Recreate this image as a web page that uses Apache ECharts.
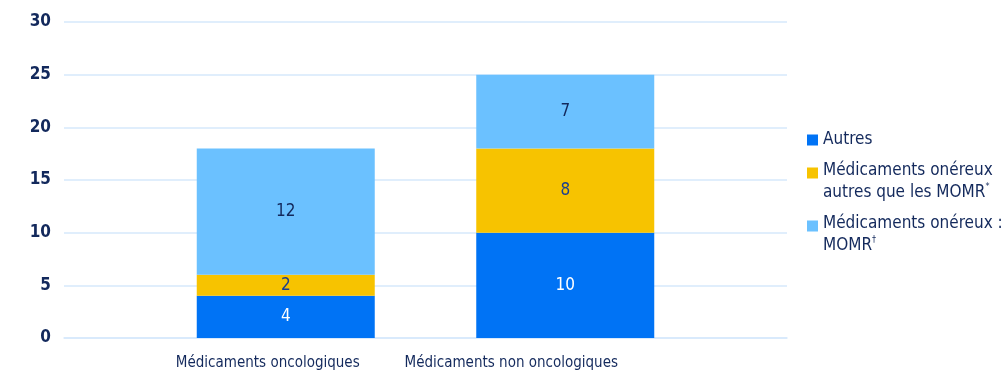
<!DOCTYPE html>
<html><head><meta charset="utf-8">
<script src="https://cdn.jsdelivr.net/npm/echarts@6/dist/echarts.min.js"></script>
<style>html,body{margin:0;padding:0;background:#fff}#c{width:1007px;height:383px}</style>
</head><body><div id="c"></div>
<script>
const categories = ['Médicaments oncologiques', 'Médicaments non oncologiques'];
const autres = [4, 10];
const onereuxAutres = [2, 8];
const momr = [12, 7];
const yTicks = [0, 5, 10, 15, 20, 25, 30];
const seriesNames = ['Autres', 'Médicaments onéreux autres que les MOMR*', 'Médicaments onéreux : MOMR†'];

const NAVY = '#13295c';
const FONT = '"DejaVu Sans Condensed", sans-serif';
const chart = echarts.init(document.getElementById('c'));
function lbl(color) {
  return { show: true, position: 'inside', color: color, fontFamily: FONT, fontSize: 17 };
}
const legendFmt = {
  'Autres': 'Autres',
  'Médicaments onéreux autres que les MOMR*': 'Médicaments onéreux\nautres que les MOMR{s|*}',
  'Médicaments onéreux : MOMR†': 'Médicaments onéreux :\nMOMR{s|†}'
};
const tallIcon = 'path://M0,0L11,0L11,11L0,11Z M0,29L0.01,29L0.01,29.01Z';
function legend(name, top, multi) {
  return {
    data: [name], left: 802, top: top, orient: 'vertical',
    itemWidth: 11, itemHeight: multi ? 29 : 11, itemGap: multi ? 6 : 9, icon: multi ? tallIcon : 'rect', selectedMode: false,
    formatter: n => legendFmt[n],
    textStyle: { color: NAVY, fontFamily: FONT, fontSize: 17, lineHeight: 22,
      rich: { s: { fontSize: 9, verticalAlign: 'top', color: NAVY, fontFamily: FONT, lineHeight: 12 } } }
  };
}
chart.setOption({
  animation: false,
  grid: [
    { left: 64, right: 220, top: 22, bottom: 45 },
    { left: 146, right: 302, top: 22, bottom: 45 }
  ],
  legend: [legend(seriesNames[0], 124, false), legend(seriesNames[1], 155, true), legend(seriesNames[2], 208, true)],
  xAxis: [
    { type: 'category', gridIndex: 0, data: ['', ''], axisLine: { lineStyle: { color: '#d6e9fb', width: 1.5 } },
      axisTick: { show: false }, axisLabel: { show: false } },
    { type: 'category', gridIndex: 1, data: categories, axisLine: { show: false }, axisTick: { show: false },
      axisLabel: { interval: 0, hideOverlap: false, margin: 18, color: NAVY, fontFamily: FONT, fontSize: 15,
        formatter: (v, i) => i === 0 ? '{a|' + v + '}' : '{b|' + v + '}',
        rich: { a: { padding: [0, 36, 0, 0], color: NAVY, fontFamily: FONT, fontSize: 15 },
                b: { padding: [0, 108, 0, 0], color: NAVY, fontFamily: FONT, fontSize: 15 } } } }
  ],
  yAxis: [
    { type: 'value', gridIndex: 0, min: yTicks[0], max: yTicks[yTicks.length - 1], interval: 5,
      axisLine: { show: false }, axisTick: { show: false },
      splitLine: { lineStyle: { color: '#d6e9fb', width: 1.5 } },
      axisLabel: { margin: 13, color: NAVY, fontFamily: FONT, fontSize: 17, fontWeight: 'bold' } },
    { type: 'value', gridIndex: 1, min: 0, max: 30, interval: 5, show: false }
  ],
  series: [
    { name: seriesNames[0], type: 'bar', stack: 's', xAxisIndex: 1, yAxisIndex: 1, barWidth: 178,
      data: autres, itemStyle: { color: '#0073f5' }, label: lbl('#ffffff') },
    { name: seriesNames[1], type: 'bar', stack: 's', xAxisIndex: 1, yAxisIndex: 1, barWidth: 178,
      data: onereuxAutres, itemStyle: { color: '#f7c300' }, label: lbl('#1c3f8f') },
    { name: seriesNames[2], type: 'bar', stack: 's', xAxisIndex: 1, yAxisIndex: 1, barWidth: 178,
      data: momr, itemStyle: { color: '#6bc1ff' }, label: lbl(NAVY) }
  ]
});
</script></body></html>
